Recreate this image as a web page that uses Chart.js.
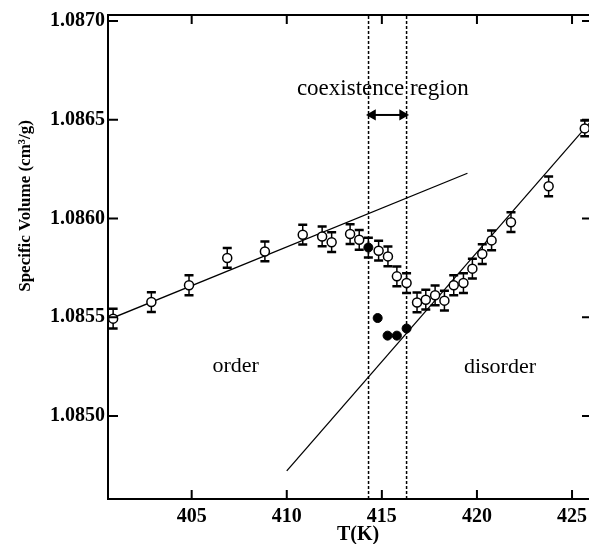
<!DOCTYPE html>
<html>
<head>
<meta charset="utf-8">
<script src="https://cdn.jsdelivr.net/npm/chart.js@4.4.0/dist/chart.umd.min.js"></script>
<style>
  html, body { margin: 0; padding: 0; background: #fff; overflow: hidden; }
  #wrap { width: 600px; height: 544px; }
</style>
</head>
<body>
<div id="wrap"><canvas id="myChart" width="600" height="544"></canvas></div>
<script>
// open circles (with error bars)
const openT = [400.87, 402.88, 404.86, 406.87, 408.85, 410.84, 411.86, 412.36, 413.33, 413.81,
               414.83, 415.32, 415.79, 416.30, 416.85, 417.31, 417.80, 418.29, 418.78, 419.29,
               419.76, 420.28, 420.77, 421.79, 423.77, 425.67];
const openV = [1.085493, 1.085577, 1.085662, 1.085800, 1.085833, 1.085918, 1.085909, 1.085880, 1.085921, 1.085892,
               1.085837, 1.085808, 1.085707, 1.085673, 1.085575, 1.085589, 1.085611, 1.085584, 1.085662, 1.085673,
               1.085746, 1.085820, 1.085889, 1.085981, 1.086163, 1.086456];
const openErr = [0.00005, 0.00005, 0.00005, 0.00005, 0.00005, 0.00005, 0.00005, 0.00005, 0.00005, 0.00005,
                 0.00005, 0.00005, 0.00005, 0.00005, 0.00005, 0.00005, 0.00005, 0.00005, 0.00005, 0.00005,
                 0.00005, 0.00005, 0.00005, 0.00005, 0.00005, 0.00004];

// filled circles
const fillT = [414.29, 414.78, 415.30, 415.79, 416.30];
const fillV = [1.085853, 1.085496, 1.085407, 1.085407, 1.085443];
const fillErr = [0.00005, 0, 0, 0, 0];

// fitted lines
const orderLineT = [400.6, 419.5];
const orderLineV = [1.085487, 1.086229];
const disorderLineT = [410.0, 426.05];
const disorderLineV = [1.084722, 1.086498];

// coexistence region bounds and arrow
const coexT = [414.3, 416.3];
const arrowT = [414.51, 416.09];
const arrowV = 1.086524;

const xTicks = [405, 410, 415, 420, 425];
const yTicks = [1.0850, 1.0855, 1.0860, 1.0865, 1.0870];
const xMin = 400.6, xMax = 426.05;
const yMin = 1.08458, yMax = 1.08703;

const serif = "'Liberation Serif', 'Times New Roman', serif";

function pts(xs, ys) {
    return xs.map((x, i) => ({ x: x, y: ys[i] }));
}

const frameAndExtras = {
    id: 'frameAndExtras',
    beforeDatasetsDraw(chart) {
        const ctx = chart.ctx;
        const xs = chart.scales.x, ys = chart.scales.y;
        ctx.save();
        ctx.strokeStyle = '#000';
        const bars = [[openT, openV, openErr], [fillT, fillV, fillErr]];
        bars.forEach(([tt, vv, ee]) => {
            tt.forEach((t, i) => {
                if (!ee[i]) return;
                const px = xs.getPixelForValue(t);
                const y1 = ys.getPixelForValue(vv[i] + ee[i]);
                const y2 = ys.getPixelForValue(vv[i] - ee[i]);
                ctx.lineWidth = 1.5;
                ctx.beginPath();
                ctx.moveTo(px, y1); ctx.lineTo(px, y2);
                ctx.stroke();
                ctx.lineWidth = 2.5;
                ctx.beginPath();
                ctx.moveTo(px - 4.5, y1); ctx.lineTo(px + 4.5, y1);
                ctx.moveTo(px - 4.5, y2); ctx.lineTo(px + 4.5, y2);
                ctx.stroke();
            });
        });
        ctx.restore();
    },
    afterDraw(chart) {
        const ctx = chart.ctx;
        const a = chart.chartArea;
        const xs = chart.scales.x, ys = chart.scales.y;
        ctx.save();
        ctx.strokeStyle = '#000';
        ctx.lineWidth = 2;
        ctx.strokeRect(a.left, a.top, a.right - a.left, a.bottom - a.top);

        // inward tick marks on all four sides
        ctx.beginPath();
        xTicks.forEach(v => {
            const px = xs.getPixelForValue(v);
            ctx.moveTo(px, a.bottom); ctx.lineTo(px, a.bottom - 9);
            ctx.moveTo(px, a.top); ctx.lineTo(px, a.top + 9);
        });
        yTicks.forEach(v => {
            const py = ys.getPixelForValue(v);
            ctx.moveTo(a.left, py); ctx.lineTo(a.left + 10, py);
            ctx.moveTo(a.right, py); ctx.lineTo(a.right - 10, py);
        });
        ctx.stroke();

        ctx.fillStyle = '#000';
        ctx.textAlign = 'center';
        ctx.textBaseline = 'middle';

        // annotations
        ctx.font = '23px ' + serif;
        ctx.fillText('coexistence region', xs.getPixelForValue(415.05), ys.getPixelForValue(1.086655));
        ctx.font = '22px ' + serif;
        ctx.fillText('order', xs.getPixelForValue(407.31), ys.getPixelForValue(1.085250));
        ctx.fillText('disorder', xs.getPixelForValue(421.21), ys.getPixelForValue(1.085245));

        // axis titles
        ctx.font = 'bold 20px ' + serif;
        ctx.fillText('T(K)', (a.left + a.right) / 2 + 8, 535);
        ctx.translate(26, 206);
        ctx.rotate(-Math.PI / 2);
        ctx.font = 'bold 17px ' + serif;
        ctx.fillText('Specific Volume (cm³/g)', 0, 0);
        ctx.restore();
    }
};

const tickFont = { family: serif, size: 20, weight: 'bold' };

new Chart(document.getElementById('myChart'), {
    type: 'scatter',
    data: {
        datasets: [
            {
                label: 'open',
                data: pts(openT, openV),
                pointStyle: 'circle',
                pointRadius: 4.5,
                pointBackgroundColor: '#fff',
                pointBorderColor: '#000',
                pointBorderWidth: 1.5,
                showLine: false,
                order: 0
            },
            {
                label: 'filled',
                data: pts(fillT, fillV),
                pointStyle: 'circle',
                pointRadius: 4.5,
                pointBackgroundColor: '#000',
                pointBorderColor: '#000',
                pointBorderWidth: 1,
                showLine: false,
                order: 0
            },
            {
                label: 'order fit',
                data: pts(orderLineT, orderLineV),
                showLine: true,
                borderColor: '#000',
                borderWidth: 1.3,
                pointRadius: 0,
                order: 2
            },
            {
                label: 'disorder fit',
                data: pts(disorderLineT, disorderLineV),
                showLine: true,
                borderColor: '#000',
                borderWidth: 1.3,
                pointRadius: 0,
                order: 2
            },
            {
                label: 'coex low',
                data: [{ x: coexT[0], y: yMin }, { x: coexT[0], y: yMax }],
                showLine: true,
                borderColor: '#000',
                borderWidth: 1.5,
                borderDash: [3, 2],
                pointRadius: 0,
                order: 3
            },
            {
                label: 'coex high',
                data: [{ x: coexT[1], y: yMin }, { x: coexT[1], y: yMax }],
                showLine: true,
                borderColor: '#000',
                borderWidth: 1.5,
                borderDash: [3, 2],
                pointRadius: 0,
                order: 3
            },
            {
                label: 'arrow',
                data: [{ x: arrowT[0], y: arrowV }, { x: arrowT[1], y: arrowV }],
                showLine: true,
                borderColor: '#000',
                borderWidth: 2,
                pointStyle: 'triangle',
                pointRotation: [270, 90],
                pointRadius: 4.5,
                pointBackgroundColor: '#000',
                pointBorderColor: '#000',
                order: 1
            }
        ]
    },
    options: {
        responsive: false,
        animation: false,
        devicePixelRatio: 1,
        layout: { padding: { left: 0, right: 8, top: 15, bottom: 0 } },
        plugins: { legend: { display: false }, tooltip: { enabled: false } },
        scales: {
            x: {
                type: 'linear',
                min: xMin,
                max: xMax,
                afterBuildTicks: s => { s.ticks = xTicks.map(v => ({ value: v })); },
                afterFit: s => { s.height = 45; },
                grid: { display: false, drawTicks: false },
                border: { display: false },
                ticks: { color: '#000', font: tickFont, padding: 6, maxRotation: 0, autoSkip: false, callback: v => String(v) }
            },
            y: {
                type: 'linear',
                min: yMin,
                max: yMax,
                afterBuildTicks: s => { s.ticks = yTicks.map(v => ({ value: v })); },
                afterFit: s => { s.width = 108; },
                grid: { display: false, drawTicks: false },
                border: { display: false },
                ticks: { color: '#000', font: tickFont, padding: 3, autoSkip: false, callback: v => v.toFixed(4) }
            }
        }
    },
    plugins: [frameAndExtras]
});
</script>
</body>
</html>
